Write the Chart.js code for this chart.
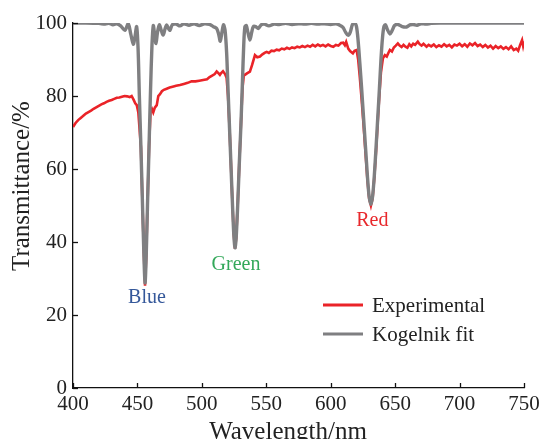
<!DOCTYPE html>
<html>
<head>
<meta charset="utf-8">
<script src="https://cdn.jsdelivr.net/npm/chart.js@4"></script>
<style>
  html, body { margin: 0; padding: 0; background: #ffffff; }
  #wrap { width: 544px; height: 439px; position: relative; }
</style>
</head>
<body>
<div id="wrap"><canvas id="c" width="544" height="439"></canvas></div>
<script>
// ---- data ----
const xTicks = [400, 450, 500, 550, 600, 650, 700, 750];
const yTicks = [0, 20, 40, 60, 80, 100];
const xTitle = 'Wavelength/nm';
const yTitle = 'Transmittance/%';

const seriesNames = ['Experimental', 'Kogelnik fit'];

// Experimental transmittance (red)
const expWl = [400,402,404,406,408,410,412,414,416,418,420,422,424,426,428,430,432,434,436,438,440,442,444,445.5,447,448.3,449.5,450.7,
  452.7,453.8,454.9,455.9,456.8,457.8,459,460.2,461.2,462.3,463.5,465,466.2,467.5,469,470.5,472.7,475,478,480,483,486,489,492,495,498,501,504,506,508,510,511.5,513,514,515,516.4,518,519.2,
  520.3,521.5,522.7,523.8,524.8,525.7,526.6,527.8,529,530.3,531.5,532.5,533.4,535,537.3,539,541.2,543,545.1,547,549,550.3,552,554,556,558,560,562,564,566,568,570,572,574,576,578,580,582,584,586,588,590,592,594,596,598,600,602,604,606,608,609.7,611,612,613.6,615,617.2,618.5,620.1,
  621.3,622.6,624,625.5,627,628.5,629.8,631.2,632.5,633.8,635.2,636.5,637.8,639,640.5,642,643.5,645,645.9,647.5,649,650.5,652.1,653.5,655,656.5,658,659.5,661,662.5,664,665.5,667.6,669,670.5,672,674.4,676,678,680,682,684,686,688,690,692,694,696,698,700,702,704,706,708,710,712,714,716,718,720,722,724,726,728,730,732,734,736,738,740,742,744,745.5,747,748.5,749.3,750];
const expT = [71.5,72.6,73.4,74.0,74.6,75.2,75.6,76.0,76.5,76.9,77.3,77.7,78.0,78.4,78.7,78.9,79.2,79.5,79.6,79.8,80.0,79.9,79.7,80.0,79.0,78.0,77.5,75.5,
  66,52,38,28,36,50,66,76,76.5,75.5,76.8,77.5,80.0,80.5,81.3,81.7,82.0,82.3,82.6,82.8,83.0,83.3,83.6,84.0,84.0,84.2,84.4,84.6,85.2,85.6,86.0,86.7,86.2,85.8,86.3,86.8,86.0,85.0,
  80,71,60,50,42,38.2,41,50,61,72,82,85.5,85.8,86.2,86.7,88.5,91.2,90.6,90.8,91.4,91.9,92.1,91.8,92.4,92.3,92.7,92.5,93.0,92.8,93.2,92.9,93.3,93.1,93.5,93.3,93.7,93.4,93.8,93.5,94.0,93.6,94.1,93.7,94.0,93.6,94.1,93.7,93.5,94.0,93.8,94.5,94.6,93.9,94.8,93.0,92.3,91.7,92.4,92.6,
  90,85,79,72,64.5,57,52,50,52,57.5,65,73,80.5,86.5,90.3,91.2,90.8,92.0,92.6,92.2,93.3,93.8,94.4,93.8,93.4,94.0,93.5,93.2,94.2,93.6,94.3,94.0,94.9,94.2,93.8,94.3,93.5,94.0,93.6,94.1,93.4,93.9,93.5,94.2,93.6,94.0,93.3,94.1,93.8,94.3,93.6,94.2,93.5,94.4,93.9,94.5,93.7,94.1,93.4,94.0,93.3,93.8,93.0,93.7,93.1,93.6,92.9,93.4,92.8,93.6,92.6,93.0,92.4,94.0,95.3,93.8,95.0];

// Kogelnik fit (grey)
const fitWl = [400,410,420,425,428,431,434,437,440.3,442.9,444.8,446.8,448,449.4,450.5,451.5,452.7,453.8,454.9,455.9,456.8,457.8,459,460.2,461.3,462.3,463.3,464.4,465.6,467,468.5,470,471.5,472.7,474,475.3,477,480,483,486,490,494,498,502,506,509,511.5,513,514.3,515.6,516.8,518,
  519.2,520.3,521.5,522.7,523.8,524.8,525.7,526.6,527.8,529,530.3,531.5,532.5,533.4,534.5,535.7,537.3,538.7,539.9,541.8,543.8,546,548.5,552,556,560,565,570,575,580,585,590,595,600,604,607,609.5,611.5,613.5,615.2,616.8,618.5,620,
  621.3,622.6,624,625.5,627,628.5,629.8,631.2,632.5,633.8,635.2,636.5,637.8,639,640.2,641.3,642.5,644,645.9,647.5,649.5,651,653,655.5,658.8,661.5,664,667,670,674,678,685,700,720,750];
const fitT = [100,100,99.9,99.7,99.9,99.5,99.8,99.2,98,99.8,97,94.2,96,99,93,80,66,52,38,28.8,36,50,66,82,94,99.3,97,94.4,97.5,99.5,98,96.7,98.5,99.5,98.5,98,99.5,99.7,99.2,99.8,99.4,99.8,99.3,99.8,99.6,99.0,98.5,97,95,97.5,99.5,98,
  92,82,71,60,50,42,38.4,41,50,61,72,84,94,99,99.3,97.5,95.3,97.5,99,99,98.5,99.5,99.7,99.2,99.7,99.6,99.9,99.6,99.8,99.7,99.9,99.7,99.8,99.6,99.8,99.4,98.8,97.5,96.6,97.5,99.5,100,99,
  95,89,82,74,66,58,52.5,50.3,52.5,58,66,74,82,90,96,99,99.5,98.2,97,97.8,99.3,99.6,99.5,99,98.9,99.5,99.6,99.4,99.8,99.7,99.9,100,100,100,100];

// band annotations
const bandNames = ['Blue', 'Green', 'Red'];
const bandWl = [457.4, 526.5, 632.3];
const bandT = [24.6, 33.8, 45.8];
const bandColors = ['#35589a', '#33a85a', '#e8282c'];

const RED = '#ea2328';
const GREY = '#7f7f81';
const FONT = '"Liberation Serif", "Times New Roman", serif';

function pts(xs, ys) { return xs.map((x, i) => ({ x: x, y: ys[i] })); }

const overlay = {
  id: 'overlay',
  afterDraw(chart) {
    const ctx = chart.ctx;
    const xs = chart.scales.x, ys = chart.scales.y;
    const ca = chart.chartArea;
    ctx.save();
    // inward tick marks
    ctx.strokeStyle = '#111';
    ctx.lineWidth = 1.3;
    xTicks.forEach(v => {
      const px = Math.round(xs.getPixelForValue(v)) + 0.5;
      ctx.beginPath(); ctx.moveTo(px, ca.bottom); ctx.lineTo(px, ca.bottom - 5); ctx.stroke();
    });
    yTicks.forEach(v => {
      const py = Math.round(ys.getPixelForValue(v)) + 0.5;
      ctx.beginPath(); ctx.moveTo(ca.left, py); ctx.lineTo(ca.left + 5, py); ctx.stroke();
    });
    // axis titles
    ctx.font = '25px ' + FONT;
    ctx.fillStyle = '#222';
    ctx.textAlign = 'center';
    ctx.textBaseline = 'middle';
    ctx.fillText(xTitle, 288, 432);
    ctx.save();
    ctx.translate(22, 186);
    ctx.rotate(-Math.PI / 2);
    ctx.fillText(yTitle, 0, 0);
    ctx.restore();
    // band labels
    ctx.font = '20px ' + FONT;
    bandNames.forEach((n, i) => {
      ctx.fillStyle = bandColors[i];
      ctx.fillText(n, xs.getPixelForValue(bandWl[i]), ys.getPixelForValue(bandT[i]));
    });
    // legend
    const lx0 = 323, lx1 = 363, ly = [305, 334];
    const cols = [RED, GREY];
    ctx.textAlign = 'left';
    ctx.font = '21px ' + FONT;
    seriesNames.forEach((n, i) => {
      ctx.strokeStyle = cols[i];
      ctx.lineWidth = 3.2;
      ctx.beginPath(); ctx.moveTo(lx0, ly[i]); ctx.lineTo(lx1, ly[i]); ctx.stroke();
      ctx.fillStyle = '#222';
      ctx.fillText(n, 372, ly[i] + 1);
    });
    ctx.restore();
  }
};

new Chart(document.getElementById('c'), {
  type: 'line',
  data: {
    datasets: [
      { label: seriesNames[1], data: pts(fitWl, fitT), borderColor: GREY, borderWidth: 3.4, pointRadius: 0, tension: 0.3, fill: false },
      { label: seriesNames[0], data: pts(expWl, expT), borderColor: RED, borderWidth: 2.6, pointRadius: 0, tension: 0, fill: false }
    ]
  },
  options: {
    responsive: false,
    animation: false,
    devicePixelRatio: 1,
    layout: { padding: { top: 23, right: 20, left: 0, bottom: 0 } },
    plugins: { legend: { display: false }, tooltip: { enabled: false } },
    scales: {
      x: {
        type: 'linear', min: 400, max: 750,
        afterBuildTicks: s => { s.ticks = xTicks.map(v => ({ value: v })); },
        afterFit: s => { s.height = 51; },
        grid: { display: false, drawTicks: false },
        border: { display: true, color: '#111', width: 1.3 },
        ticks: { color: '#222', font: { family: FONT, size: 21 }, padding: 4, maxRotation: 0 },
        title: { display: false }
      },
      y: {
        min: 0, max: 100,
        afterBuildTicks: s => { s.ticks = yTicks.map(v => ({ value: v })); },
        afterFit: s => { s.width = 73; },
        grid: { display: false, drawTicks: false },
        border: { display: true, color: '#111', width: 1.3 },
        ticks: { color: '#222', font: { family: FONT, size: 21 }, padding: 6 },
        title: { display: false }
      }
    }
  },
  plugins: [overlay]
});
</script>
</body>
</html>
